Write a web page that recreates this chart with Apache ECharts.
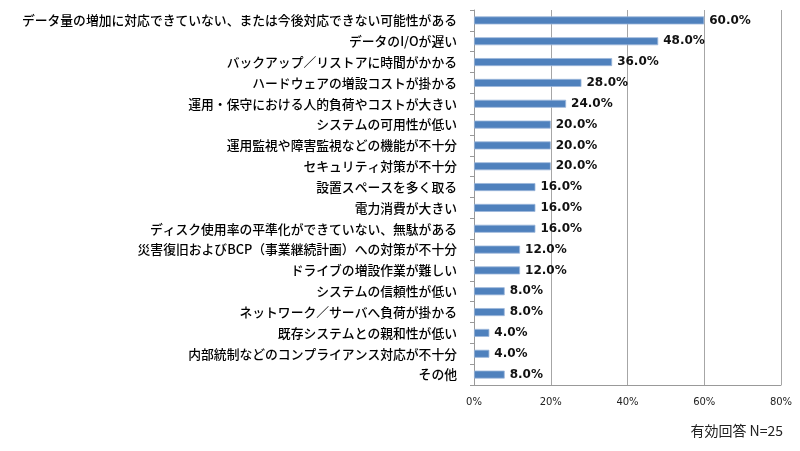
<!DOCTYPE html>
<html><head><meta charset="utf-8">
<script src="https://cdn.jsdelivr.net/npm/echarts@6/dist/echarts.min.js"></script>
<style>html,body{margin:0;padding:0;background:#fff}#c{width:800px;height:451px}</style>
</head><body><div id="c"></div>
<script>
const categories = [
  "データ量の増加に対応できていない、または今後対応できない可能性がある",
  "データのI/Oが遅い",
  "バックアップ／リストアに時間がかかる",
  "ハードウェアの増設コストが掛かる",
  "運用・保守における人的負荷やコストが大きい",
  "システムの可用性が低い",
  "運用監視や障害監視などの機能が不十分",
  "セキュリティ対策が不十分",
  "設置スペースを多く取る",
  "電力消費が大きい",
  "ディスク使用率の平準化ができていない、無駄がある",
  "災害復旧およびBCP（事業継続計画）への対策が不十分",
  "ドライブの増設作業が難しい",
  "システムの信頼性が低い",
  "ネットワーク／サーバへ負荷が掛かる",
  "既存システムとの親和性が低い",
  "内部統制などのコンプライアンス対応が不十分",
  "その他"
];
const values = [60, 48, 36, 28, 24, 20, 20, 20, 16, 16, 16, 12, 12, 8, 8, 4, 4, 8];
const xTicks = [0, 20, 40, 60, 80];
const note = "有効回答 N=25";

const chart = echarts.init(document.getElementById('c'));
const font = '"Noto Sans CJK JP", "Noto Sans", sans-serif';
const numFont = '"DejaVu Sans", "Noto Sans CJK JP", sans-serif';
chart.setOption({
  animation: false,
  textStyle: { fontFamily: font },
  grid: { left: 474, right: 19, top: 10, bottom: 66, containLabel: false },
  xAxis: {
    type: 'value', min: xTicks[0], max: xTicks[xTicks.length - 1], interval: 20,
    axisLine: { show: true, lineStyle: { color: '#999', width: 1 } },
    axisTick: { show: false },
    splitLine: { show: true, lineStyle: { color: '#a6a6a6', width: 1 } },
    axisLabel: { formatter: v => v + '%', fontSize: 10, color: '#222', margin: 12, fontFamily: numFont }
  },
  yAxis: {
    type: 'category', data: categories, inverse: true,
    axisLine: { show: true, lineStyle: { color: '#999', width: 1 } },
    axisTick: { show: true, length: 4, lineStyle: { color: '#999' } },
    axisLabel: { fontSize: 12.8, color: '#000', margin: 17, fontFamily: font, fontWeight: 500 }
  },
  series: [{
    type: 'bar', data: values, barWidth: 8,
    itemStyle: { color: '#4F81BD', borderColor: '#9DB7DA', borderWidth: 0.8 },
    label: { show: true, position: 'right', distance: 5, formatter: p => p.value.toFixed(1) + '%',
      fontSize: 12, fontWeight: 'bold', color: '#111', fontFamily: numFont }
  }],
  graphic: [{
    type: 'text', right: 17, top: 424,
    style: { text: note, fontSize: 14, fill: '#222', fontFamily: font }
  }]
});
</script></body></html>
